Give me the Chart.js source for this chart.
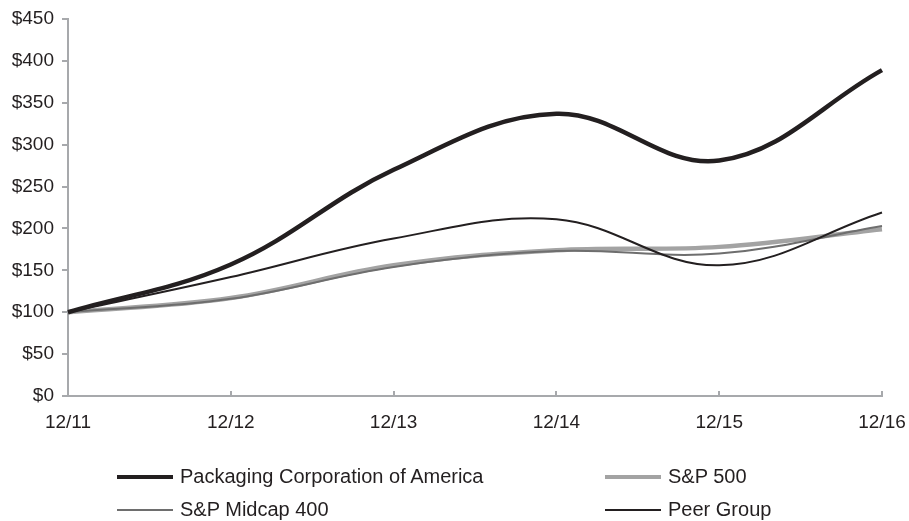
<!DOCTYPE html>
<html>
<head>
<meta charset="utf-8">
<script src="https://cdn.jsdelivr.net/npm/chart.js@4"></script>
<style>
  html, body { margin: 0; padding: 0; background: #fff; }
  #wrap { position: relative; width: 909px; height: 521px; }
  canvas { position: absolute; left: 0; top: 0; }
  .leg { position: absolute; font-family: "Liberation Sans", Arial, sans-serif; font-size: 20px; color: #231f20; white-space: nowrap; line-height: 22px; }
  .leg .s { position: absolute; top: 0; }
  .leg .t { position: absolute; top: -12px; }
</style>
</head>
<body>
<div id="wrap">
  <canvas id="c" width="909" height="521"></canvas>
</div>
<script>
const categories = ["12/11", "12/12", "12/13", "12/14", "12/15", "12/16"];
const pcaValues = [100, 157, 270, 337, 281, 389];
const sp500Values = [100, 117, 156, 174, 178, 199];
const midcapValues = [100, 116, 154, 173, 170, 203];
const peerValues = [100, 142, 188, 211, 156, 219];
const yTicks = [0, 50, 100, 150, 200, 250, 300, 350, 400, 450];

const seriesNames = ["Packaging Corporation of America", "S&P 500", "S&P Midcap 400", "Peer Group"];
const seriesColors = ["#231f20", "#a3a3a3", "#6e6e6e", "#231f20"];
const seriesWidths = [4.5, 4.5, 2, 2];

const axisColor = "#a7a9ac";
const fontFamily = '"Liberation Sans", Arial, sans-serif';

const upTicks = {
  id: 'upTicks',
  afterDraw(chart) {
    const x = chart.scales.x, ctx = chart.ctx, y0 = chart.chartArea.bottom;
    ctx.save();
    ctx.strokeStyle = axisColor;
    ctx.lineWidth = 2;
    for (let i = 1; i < categories.length; i++) {
      const px = Math.round(x.getPixelForTick(i));
      ctx.beginPath();
      ctx.moveTo(px, y0);
      ctx.lineTo(px, y0 - 5);
      ctx.stroke();
    }
    ctx.restore();
  }
};

const datasets = [pcaValues, sp500Values, midcapValues, peerValues].map((vals, i) => ({
  label: seriesNames[i],
  data: vals,
  borderColor: seriesColors[i],
  backgroundColor: seriesColors[i],
  borderWidth: seriesWidths[i],
  pointRadius: 0,
  tension: 0.38,
  fill: false,
  order: [1, 3, 2, 0][i]
}));

new Chart(document.getElementById('c'), {
  type: 'line',
  data: { labels: categories, datasets },
  options: {
    responsive: false,
    animation: false,
    devicePixelRatio: 1,
    layout: { padding: { left: 0, right: 27, top: 19, bottom: 80 } },
    plugins: { legend: { display: false }, tooltip: { enabled: false } },
    scales: {
      x: {
        offset: false,
        grid: { display: false, drawOnChartArea: false },
        border: { color: axisColor, width: 2 },
        ticks: { color: "#231f20", font: { family: fontFamily, size: 19 }, padding: 7, maxRotation: 0, autoSkip: false },
        afterFit(s) { s.height = 45; s.paddingLeft = 0; s.paddingRight = 0; }
      },
      y: {
        min: 0, max: 450,
        afterBuildTicks(s) { s.ticks = yTicks.map(v => ({ value: v })); },
        grid: { drawOnChartArea: false, drawTicks: true, tickLength: 6, color: axisColor, lineWidth: 2 },
        border: { color: axisColor, width: 2 },
        ticks: { color: "#231f20", font: { family: fontFamily, size: 19 }, padding: 8, callback: v => "$" + v },
        afterFit(s) { s.width = 68; s.paddingTop = 0; s.paddingBottom = 0; }
      }
    }
  },
  plugins: [upTicks]
});

// HTML legend
const legendPos = [
  { x: 117, y: 477 }, { x: 605, y: 477 },
  { x: 117, y: 510 }, { x: 605, y: 510 }
];
const wrap = document.getElementById('wrap');
seriesNames.forEach((name, i) => {
  const d = document.createElement('div');
  d.className = 'leg';
  d.style.left = legendPos[i].x + 'px';
  d.style.top = legendPos[i].y + 'px';
  const s = document.createElement('div');
  s.className = 's';
  s.style.left = '0px';
  s.style.width = '56px';
  s.style.height = seriesWidths[i] + 'px';
  s.style.marginTop = (-seriesWidths[i] / 2) + 'px';
  s.style.background = seriesColors[i];
  const t = document.createElement('div');
  t.className = 't';
  t.style.left = '63px';
  t.textContent = name;
  d.appendChild(s); d.appendChild(t);
  wrap.appendChild(d);
});
</script>
</body>
</html>
